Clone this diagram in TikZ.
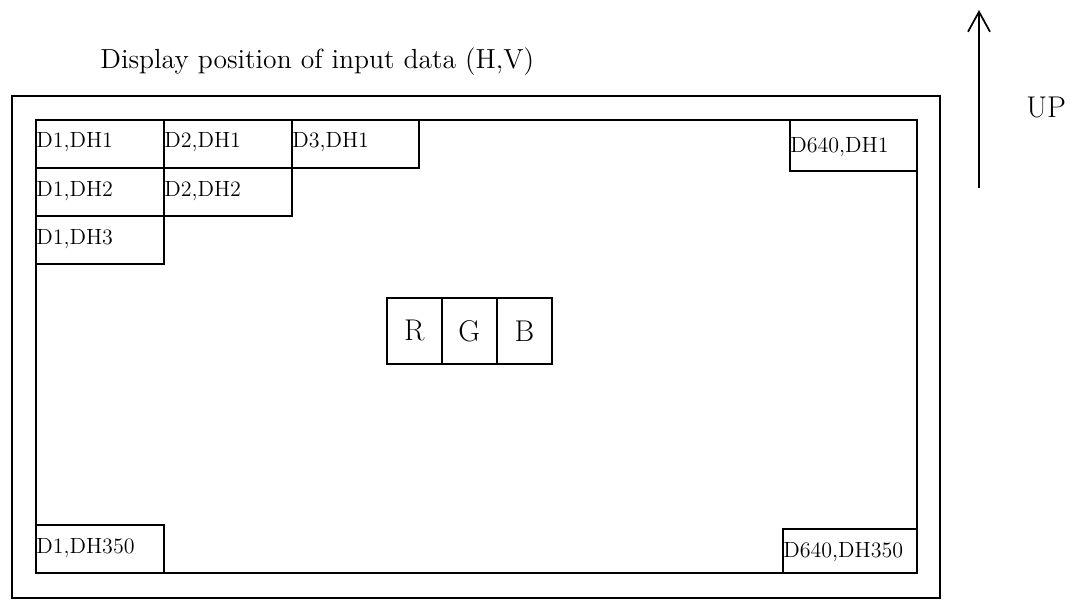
\documentclass[tikz,border=0pt]{standalone}
\usetikzlibrary{arrows.meta}
\begin{document}
\begin{tikzpicture}[x=0.5pt,y=-0.5pt,
  frame/.style={draw,line width=0.85pt},
  cellbox/.style={draw,line width=0.85pt,anchor=north west,inner sep=0pt,minimum width=64pt,minimum height=24pt},
  celltext/.style={anchor=base west,inner sep=0pt,font=\fontsize{11}{13}\selectfont},
  rgbbox/.style={draw,line width=0.85pt,anchor=north west,inner sep=0pt,minimum width=27.5pt,minimum height=33pt,font=\fontsize{15}{18}\selectfont},
  titletext/.style={anchor=base west,inner sep=0pt,font=\fontsize{13.8}{16}\selectfont},
  uptext/.style={anchor=base west,inner sep=0pt,font=\fontsize{15}{18}\selectfont}]
\useasboundingbox (0,0) rectangle (1078,600);
% frames
\node[frame,anchor=north west,inner sep=0pt,minimum width=464pt,minimum height=251pt] (outer) at (11,95) {};
\node[frame,anchor=north west,inner sep=0pt,minimum width=440.5pt,minimum height=226.5pt] (inner) at (35,119) {};
% title
\node[titletext] (title) at (100,68) {Display position of input data (H,V)};
% cells
\node[cellbox] (c11) at (35,119) {};
\node[cellbox] (c21) at (163,119) {};
\node[cellbox,minimum width=63.5pt] (c31) at (291,119) {};
\node[cellbox] (c12) at (35,167) {};
\node[cellbox] (c22) at (163,167) {};
\node[cellbox] (c13) at (35,215) {};
\node[cellbox,minimum width=63.5pt,minimum height=25.5pt] (cR1) at (789,119) {};
\node[cellbox] (c1L) at (35,524) {};
\node[cellbox,minimum width=67pt,minimum height=22pt] (cRL) at (782,528) {};
\node[celltext] (t11) at ([shift={(1,28)}]c11.north west) {D1,DH1};
\node[celltext] (t21) at ([shift={(1,28)}]c21.north west) {D2,DH1};
\node[celltext] (t31) at ([shift={(1,28)}]c31.north west) {D3,DH1};
\node[celltext] (t12) at ([shift={(1,29)}]c12.north west) {D1,DH2};
\node[celltext] (t22) at ([shift={(1,29)}]c22.north west) {D2,DH2};
\node[celltext] (t13) at ([shift={(1,29)}]c13.north west) {D1,DH3};
\node[celltext] (tR1) at ([shift={(1,33)}]cR1.north west) {D640,DH1};
\node[celltext] (t1L) at ([shift={(1,29)}]c1L.north west) {D1,DH350};
\node[celltext] (tRL) at ([shift={(1,29)}]cRL.north west) {D640,DH350};
% RGB
\node[rgbbox] (r) at (386,297) {R};
\node[rgbbox] (g) at (441,297) {G};
\node[rgbbox] (b) at (496,297) {B};
% UP arrow
\coordinate (abot) at (979,188);
\coordinate (atop) at (979,10);
\draw[line width=0.85pt,-{Straight Barb[length=10pt,width=11pt]}] (abot) -- (atop);
\node[uptext] (up) at (1026,117) {UP};
\end{tikzpicture}
\end{document}
